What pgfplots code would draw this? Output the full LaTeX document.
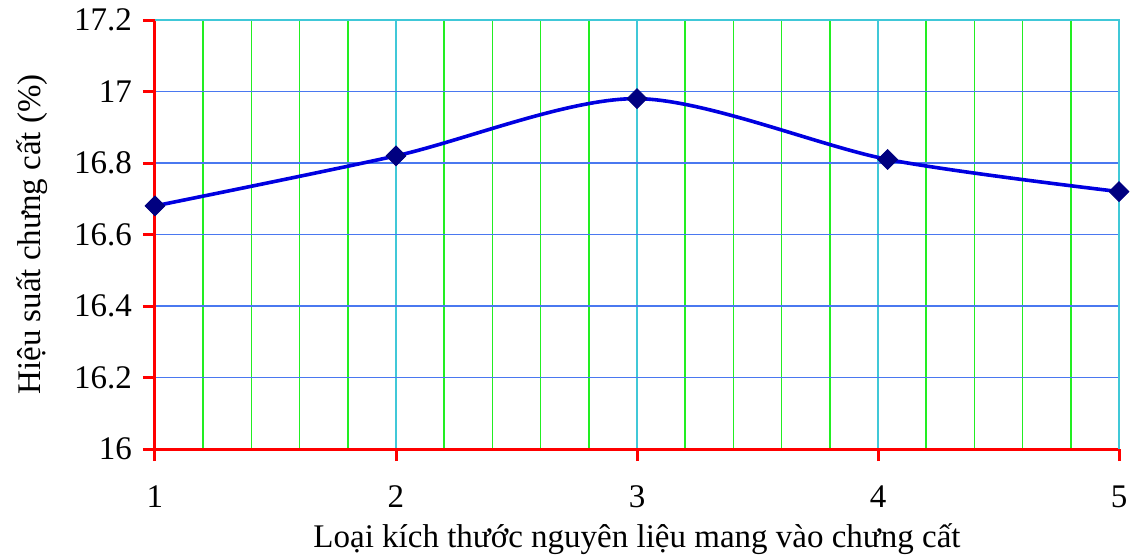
\documentclass[border=0pt]{standalone}
\usepackage{fontspec}
\setmainfont{Liberation Serif}
\usepackage{pgfplots}
\pgfplotsset{compat=1.18}

\definecolor{gridblue}{RGB}{74,120,240}
\definecolor{gridcyan}{RGB}{64,200,216}
\definecolor{gridgreen}{RGB}{34,238,34}
\definecolor{lineblue}{RGB}{0,0,224}
\definecolor{marknavy}{RGB}{0,0,128}

\begin{document}
\begin{tikzpicture}
\begin{axis}[
  scale only axis,
  width=482pt, height=214.5pt,
  xmin=1, xmax=5,
  ymin=16, ymax=17.2,
  xtick={1,2,3,4,5},
  ytick={16,16.2,16.4,16.6,16.8,17,17.2},
  yticklabels={16,16.2,16.4,16.6,16.8,17,17.2},
  minor x tick num=4,
  axis lines=left,
  axis line style={-, red, line width=1.5pt},
  tick style={red, line width=1.5pt},
  tick align=outside,
  major tick length=6pt,
  minor tick length=0pt,
  xmajorgrids, xminorgrids, ymajorgrids,
  x grid style={gridcyan, line width=0.75pt},
  minor x grid style={gridgreen, line width=0.75pt},
  y grid style={gridblue, line width=0.75pt},
  /pgf/number format/assume math mode=true,
  tick label style={font=\fontsize{16.5}{19}\selectfont},
  xticklabel style={yshift=-9pt},
  yticklabel style={xshift=-2pt},
  xlabel={Loại kích thước nguyên liệu mang vào chưng cất},
  ylabel={Hiệu suất chưng cất (\%)},
  label style={font=\fontsize{16.5}{19}\selectfont},
  xlabel style={at={(axis description cs:0.5,0)}, anchor=center, yshift=-45pt},
  ylabel style={at={(axis description cs:0,0.5)}, anchor=center, yshift=61.5pt},
  clip=false,
]
\draw[gridcyan, line width=0.75pt] (axis cs:1,17.2) -- (axis cs:5,17.2) -- (axis cs:5,16);
\addplot[lineblue, line width=1.8pt, smooth, tension=0.5,
  mark=square*, mark size=3.5pt,
  mark options={rotate=45, fill=marknavy, draw=marknavy, line width=0.4pt}]
  coordinates {(1,16.68) (2,16.82) (3,16.98) (4.04,16.81) (5,16.72)};
\end{axis}
\pgfresetboundingbox
\path (-77.5pt,-54.5pt) rectangle (489.5pt,224.5pt);
\end{tikzpicture}
\end{document}
